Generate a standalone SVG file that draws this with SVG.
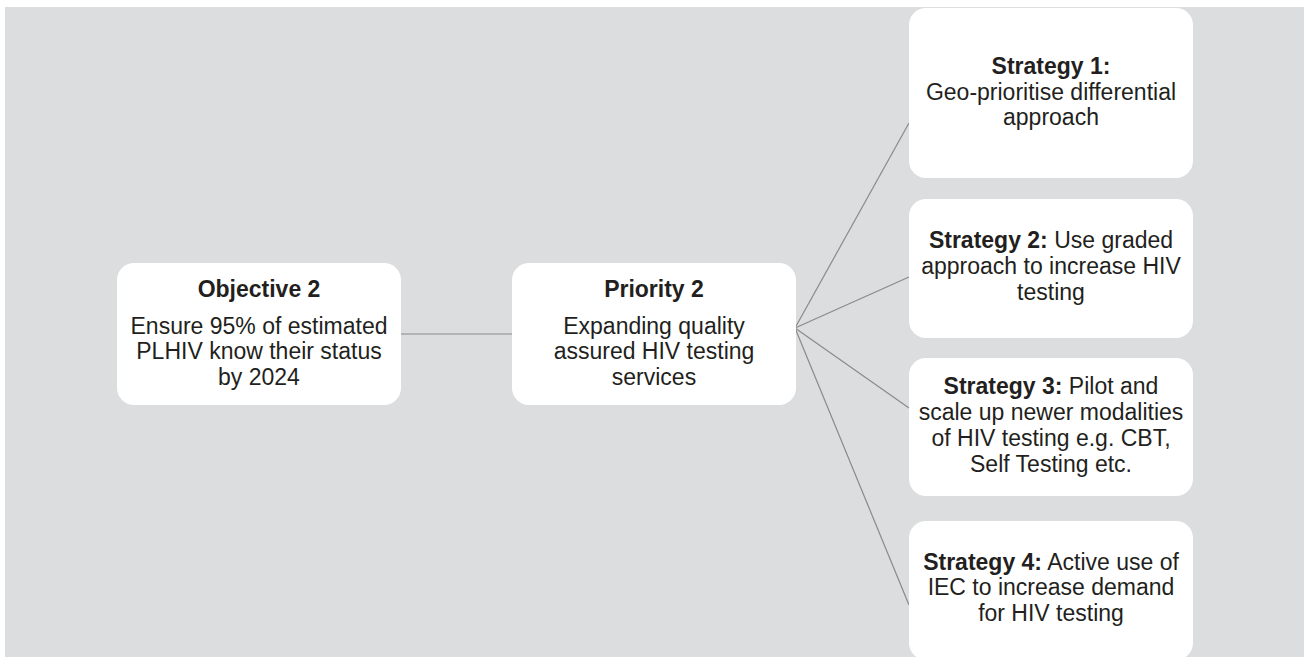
<svg xmlns="http://www.w3.org/2000/svg" width="1304" height="657" viewBox="0 0 1304 657">
<style>
.box{fill:#ffffff;}
.t{font-family:'Liberation Sans',Arimo,Arial,Helvetica,sans-serif;font-size:23px;fill:#231f20;text-anchor:middle;}
.b{font-weight:bold;}
.c{stroke:#8a8a8a;stroke-width:1.2;fill:none;}
</style>
<rect x="0" y="0" width="1304" height="657" fill="#ffffff"/>
<rect x="5" y="7" width="1299" height="650" fill="#dcdddf"/>
<g id="connectors">
<line class="c" x1="401" y1="334" x2="512" y2="334"/>
<line class="c" x1="795" y1="328" x2="909" y2="123"/>
<line class="c" x1="795" y1="328" x2="909" y2="277"/>
<line class="c" x1="795" y1="328" x2="909" y2="408"/>
<line class="c" x1="795" y1="328" x2="909" y2="605"/>
</g>
<g id="objective">
<rect class="box" x="117" y="263" width="284" height="142" rx="17"/>
<text class="t b" x="259" y="297">Objective 2</text>
<text class="t" x="259" y="333.5">Ensure 95% of estimated</text>
<text class="t" x="259" y="359">PLHIV know their status</text>
<text class="t" x="259" y="384.5">by 2024</text>
</g>
<g id="priority">
<rect class="box" x="512" y="263" width="284" height="142" rx="17"/>
<text class="t b" x="654" y="297">Priority 2</text>
<text class="t" x="654" y="333.5">Expanding quality</text>
<text class="t" x="654" y="359">assured HIV testing</text>
<text class="t" x="654" y="384.5">services</text>
</g>
<g id="strategy1">
<rect class="box" x="909" y="8" width="284" height="170" rx="17"/>
<text class="t b" x="1051" y="74">Strategy 1:</text>
<text class="t" x="1051" y="100">Geo-prioritise differential</text>
<text class="t" x="1051" y="125">approach</text>
</g>
<g id="strategy2">
<rect class="box" x="909" y="199" width="284" height="139" rx="17"/>
<text class="t" x="1051" y="248"><tspan class="b">Strategy 2:</tspan> Use graded</text>
<text class="t" x="1051" y="274">approach to increase HIV</text>
<text class="t" x="1051" y="299.5">testing</text>
</g>
<g id="strategy3">
<rect class="box" x="909" y="358" width="284" height="138" rx="17"/>
<text class="t" x="1051" y="393.5"><tspan class="b">Strategy 3:</tspan> Pilot and</text>
<text class="t" x="1051" y="419.5">scale up newer modalities</text>
<text class="t" x="1051" y="445.5">of HIV testing e.g. CBT,</text>
<text class="t" x="1051" y="471.5">Self Testing etc.</text>
</g>
<g id="strategy4">
<rect class="box" x="909" y="521" width="284" height="139" rx="17"/>
<text class="t" x="1051" y="569.5"><tspan class="b">Strategy 4:</tspan> Active use of</text>
<text class="t" x="1051" y="595">IEC to increase demand</text>
<text class="t" x="1051" y="620.5">for HIV testing</text>
</g>
</svg>
